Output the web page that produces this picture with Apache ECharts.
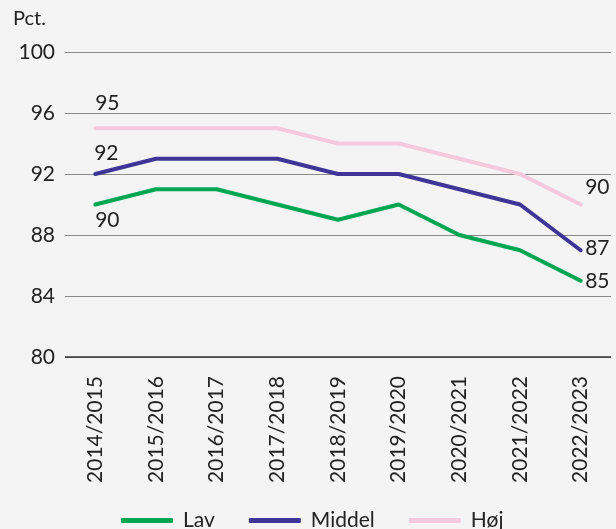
<!DOCTYPE html>
<html><head><meta charset="utf-8">
<script src="https://cdn.jsdelivr.net/npm/echarts@6/dist/echarts.min.js"></script>
<style>html,body{margin:0;padding:0;background:#f4f4f4}#c{width:616px;height:529px}</style>
</head><body><div id="c"></div>
<script>
const categories = ['2014/2015','2015/2016','2016/2017','2017/2018','2018/2019','2019/2020','2020/2021','2021/2022','2022/2023'];
const lav = [90, 91, 91, 90, 89, 90, 88, 87, 85];
const middel = [92, 93, 93, 93, 92, 92, 91, 90, 87];
const hoej = [95, 95, 95, 95, 94, 94, 93, 92, 90];
const yTicks = [80, 84, 88, 92, 96, 100];
const seriesNames = ['Lav', 'Middel', 'Høj'];
const colors = ['#00a651', '#3e3596', '#f5c8dc'];

const FONT = 'Lato';
const FS = 21;
function mk(vals, firstLbl, lastLbl) {
  return vals.map((v, i) => {
    if (i === 0) return { value: v, label: Object.assign({ show: true }, firstLbl) };
    if (i === vals.length - 1) return { value: v, label: Object.assign({ show: true }, lastLbl) };
    return v;
  });
}
const lblBase = { color: '#222', fontSize: FS, fontFamily: FONT };
const chart = echarts.init(document.getElementById('c'));
chart.setOption({
  backgroundColor: '#f4f4f4',
  animation: false,
  color: colors,
  textStyle: { fontFamily: FONT },
  graphic: [{ type: 'text', left: 13, top: 9, style: { text: 'Pct.', fontSize: FS - 1, fontFamily: FONT, fill: '#222' } }],
  grid: { left: 65, right: 5, top: 52, bottom: 172 },
  legend: {
    top: 505, left: 116, itemWidth: 52, itemHeight: 5, itemGap: 34,
    icon: 'roundRect',
    textStyle: { fontSize: FS, color: '#222', fontFamily: FONT, padding: [0, 0, 0, 5] },
    data: seriesNames
  },
  xAxis: {
    type: 'category', data: categories, boundaryGap: true,
    axisLine: { show: false }, axisTick: { show: false },
    axisLabel: { rotate: 90, margin: 19, fontSize: FS, color: '#222', fontFamily: FONT, interval: 0 }
  },
  yAxis: {
    type: 'value', min: yTicks[0], max: yTicks[yTicks.length - 1], interval: 4,
    axisLine: { show: false }, axisTick: { show: false },
    axisLabel: { fontSize: FS, color: '#222', fontFamily: FONT, margin: 10 },
    splitLine: { lineStyle: { color: '#8a8a8a', width: 1 } }
  },
  series: [
    { name: 'Lav', type: 'line', symbol: 'circle', symbolSize: 1, showSymbol: true, lineStyle: { width: 4, cap: 'round' },
      data: mk(lav, Object.assign({ position: 'bottom', offset: [12, 0] }, lblBase), Object.assign({ position: 'right', offset: [-1, 0] }, lblBase)), z: 3 },
    { name: 'Middel', type: 'line', symbol: 'circle', symbolSize: 1, showSymbol: true, lineStyle: { width: 4, cap: 'round' },
      data: mk(middel, Object.assign({ position: 'top', offset: [11, -5] }, lblBase), Object.assign({ position: 'right', offset: [-1, -2] }, lblBase)), z: 3 },
    { name: 'Høj', type: 'line', symbol: 'circle', symbolSize: 1, showSymbol: true, lineStyle: { width: 4, cap: 'round' },
      data: mk(hoej, Object.assign({ position: 'top', offset: [12, -9] }, lblBase), Object.assign({ position: 'right', offset: [-1, -17] }, lblBase)), z: 3 },
    { type: 'line', data: [], markLine: { silent: true, symbol: 'none', label: { show: false },
      lineStyle: { color: '#333', width: 1.5, type: 'solid' }, data: [{ yAxis: yTicks[0] }] } }
  ]
});
</script></body></html>
